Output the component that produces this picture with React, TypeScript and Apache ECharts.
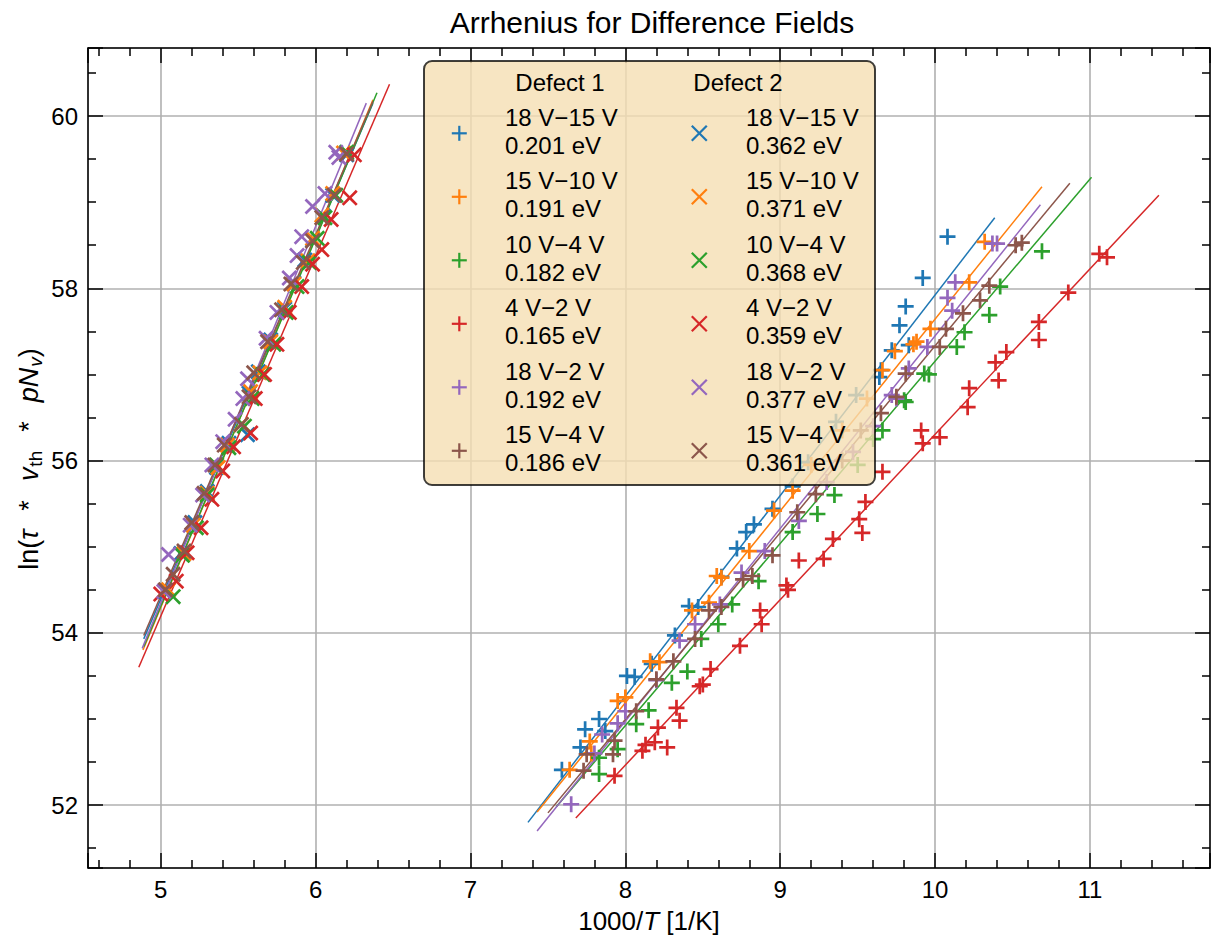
import React, { useEffect, useRef } from "react";
import * as echarts from "echarts";

const COLORS = ["#1f77b4", "#ff7f0e", "#2ca02c", "#d62728", "#9467bd", "#8c564b"];
const FIELD_LABELS = ["18 V−15 V", "15 V−10 V", "10 V−4 V", "4 V−2 V", "18 V−2 V", "15 V−4 V"];
const ENERGY_D1 = ["0.201 eV", "0.191 eV", "0.182 eV", "0.165 eV", "0.192 eV", "0.186 eV"];
const ENERGY_D2 = ["0.362 eV", "0.371 eV", "0.368 eV", "0.359 eV", "0.377 eV", "0.361 eV"];
const X_TICK_LABELS = [5, 6, 7, 8, 9, 10, 11];
const Y_TICK_LABELS = [52, 54, 56, 58, 60];

// Defect 1 (marker "+")
const d1Blue = [[7.59,52.41],[7.71,52.67],[7.74,52.88],[7.83,53.00],[7.87,52.86],[8.01,53.50],[8.06,53.49],[8.17,53.64],[8.32,53.97],[8.41,54.31],[8.47,54.30],[8.62,54.65],[8.72,54.98],[8.78,55.17],[8.83,55.26],[8.95,55.44],[9.08,55.70],[9.18,55.98],[9.36,56.45],[9.49,56.76],[9.64,56.97],[9.65,57.05],[9.72,57.28],[9.77,57.57],[9.81,57.79],[9.83,57.34],[9.92,58.12],[10.08,58.60]];
const d1Orange = [[7.64,52.41],[7.78,52.60],[7.77,52.74],[7.95,53.21],[8.00,53.25],[8.16,53.67],[8.22,53.66],[8.43,54.26],[8.54,54.35],[8.59,54.66],[8.62,54.64],[8.80,54.95],[8.96,55.42],[9.08,55.65],[9.20,55.95],[9.40,56.35],[9.56,56.72],[9.66,57.05],[9.74,57.27],[9.86,57.35],[9.88,57.38],[9.97,57.53],[10.22,58.07],[10.32,58.54]];
const d1Green = [[7.83,52.36],[7.83,52.55],[7.95,52.65],[8.07,52.94],[8.15,53.10],[8.30,53.42],[8.40,53.55],[8.49,53.93],[8.60,54.10],[8.69,54.33],[8.86,54.60],[9.08,55.17],[9.24,55.38],[9.35,55.60],[9.50,55.95],[9.60,56.25],[9.66,56.35],[9.80,56.70],[9.81,56.68],[9.93,57.01],[9.96,57.00],[10.14,57.32],[10.19,57.49],[10.35,57.69],[10.42,58.02],[10.69,58.43]];
const d1Red = [[7.93,52.34],[8.11,52.63],[8.13,52.70],[8.19,52.73],[8.21,52.90],[8.27,52.67],[8.33,53.13],[8.35,52.98],[8.48,53.38],[8.50,53.40],[8.55,53.58],[8.74,53.85],[8.87,54.26],[8.88,54.10],[9.04,54.55],[9.05,54.50],[9.12,54.84],[9.28,54.86],[9.34,55.09],[9.51,55.32],[9.53,55.16],[9.55,55.52],[9.66,55.87],[9.91,56.35],[9.92,56.20],[10.03,56.27],[10.21,56.62],[10.22,56.84],[10.39,57.14],[10.41,56.93],[10.46,57.26],[10.67,57.40],[10.67,57.61],[10.86,57.95],[11.06,58.40],[11.11,58.36]];
const d1Purple = [[7.65,52.01],[7.80,52.60],[7.85,52.82],[7.95,52.95],[8.00,53.09],[8.20,53.45],[8.35,53.91],[8.45,54.10],[8.61,54.33],[8.75,54.70],[8.90,54.95],[9.12,55.30],[9.30,55.75],[9.47,56.10],[9.60,56.40],[9.72,56.76],[9.75,56.72],[9.83,57.07],[9.95,57.32],[10.11,57.74],[10.08,57.89],[10.13,58.07],[10.37,58.52],[10.40,58.52]];
const d1Brown = [[7.73,52.40],[7.75,52.59],[7.92,52.59],[7.93,52.75],[8.07,53.09],[8.20,53.46],[8.31,53.67],[8.45,53.93],[8.54,54.26],[8.62,54.30],[8.76,54.62],[8.82,54.66],[8.95,54.90],[9.11,55.40],[9.23,55.61],[9.40,56.00],[9.52,56.35],[9.65,56.55],[9.75,56.74],[9.81,57.01],[10.03,57.32],[10.07,57.53],[10.18,57.71],[10.29,57.86],[10.35,58.03],[10.52,58.50],[10.56,58.53]];

// Defect 2 (marker "x")
const d2Blue = [[5.03,54.48],[5.13,54.92],[5.22,55.28],[5.30,55.64],[5.36,55.92],[5.44,56.20],[5.56,56.30],[5.57,56.78],[5.63,57.03],[5.71,57.40],[5.80,57.76],[5.86,58.06],[5.93,58.33],[5.98,58.56],[6.05,58.84],[6.11,59.08],[6.20,59.55]];
const d2Orange = [[5.05,54.50],[5.15,54.92],[5.21,55.25],[5.30,55.62],[5.37,55.92],[5.43,56.18],[5.52,56.42],[5.58,56.80],[5.64,57.02],[5.71,57.38],[5.80,57.78],[5.86,58.05],[5.95,58.32],[5.98,58.58],[6.04,58.85],[6.11,59.10],[6.18,59.57]];
const d2Green = [[5.08,54.42],[5.14,54.90],[5.23,55.22],[5.30,55.60],[5.36,55.95],[5.44,56.15],[5.54,56.40],[5.59,56.72],[5.66,57.00],[5.73,57.35],[5.81,57.72],[5.88,58.02],[5.96,58.30],[6.01,58.58],[6.06,58.82],[6.13,59.08],[6.20,59.58]];
const d2Red = [[5.00,54.45],[5.10,54.60],[5.17,54.93],[5.26,55.22],[5.33,55.55],[5.40,55.88],[5.47,56.16],[5.58,56.32],[5.61,56.72],[5.67,57.00],[5.75,57.35],[5.83,57.72],[5.91,58.02],[5.98,58.28],[6.04,58.45],[6.10,58.80],[6.22,59.05],[6.25,59.55]];
const d2Purple = [[5.02,54.48],[5.05,54.91],[5.19,55.25],[5.27,55.60],[5.33,55.95],[5.40,56.22],[5.48,56.48],[5.53,56.72],[5.56,56.95],[5.68,57.42],[5.75,57.72],[5.83,58.12],[5.88,58.38],[5.91,58.60],[5.98,58.95],[6.06,59.10],[6.13,59.58],[6.15,59.52]];
const d2Brown = [[5.03,54.50],[5.08,54.68],[5.15,54.95],[5.20,55.28],[5.28,55.62],[5.35,55.95],[5.41,56.18],[5.52,56.42],[5.57,56.74],[5.60,57.02],[5.69,57.38],[5.78,57.75],[5.84,58.05],[5.92,58.30],[5.98,58.55],[6.04,58.82],[6.12,59.08],[6.20,59.56]];

// Fit lines (endpoints)
const fitD1Blue = [[7.371,51.80],[10.385,58.82]];
const fitD1Orange = [[7.43,51.92],[10.69,59.18]];
const fitD1Green = [[7.554,51.98],[11.01,59.29]];
const fitD1Red = [[7.68,51.85],[11.445,59.08]];
const fitD1Purple = [[7.43,51.70],[10.68,58.97]];
const fitD1Brown = [[7.50,51.91],[10.87,59.22]];
const fitD2Blue = [[4.89,53.93],[6.37,60.15]];
const fitD2Orange = [[4.885,53.80],[6.37,60.19]];
const fitD2Green = [[4.89,53.84],[6.396,60.27]];
const fitD2Red = [[4.858,53.60],[6.477,60.37]];
const fitD2Purple = [[4.88,53.82],[6.327,60.15]];
const fitD2Brown = [[4.89,53.97],[6.37,60.17]];

const D1_POINTS = [d1Blue, d1Orange, d1Green, d1Red, d1Purple, d1Brown];
const D2_POINTS = [d2Blue, d2Orange, d2Green, d2Red, d2Purple, d2Brown];
const D1_FITS = [fitD1Blue, fitD1Orange, fitD1Green, fitD1Red, fitD1Purple, fitD1Brown];
const D2_FITS = [fitD2Blue, fitD2Orange, fitD2Green, fitD2Red, fitD2Purple, fitD2Brown];

const X_MIN = 4.53, X_MAX = 11.775, Y_MIN = 51.27, Y_MAX = 60.79;

const PLUS = "path://M8.3,0H11.7V8.3H20V11.7H11.7V20H8.3V11.7H0V8.3H8.3Z";
const CROSS = "path://M0,2.4L2.4,0L10,7.6L17.6,0L20,2.4L12.4,10L20,17.6L17.6,20L10,12.4L2.4,20L0,17.6L7.6,10Z";

const FONT = "Liberation Sans, Arial, sans-serif";

export default function App() {
  const ref = useRef<HTMLDivElement>(null);
  useEffect(() => {
    if (!ref.current) return;
    const chart = echarts.init(ref.current, undefined, { renderer: "svg" });
    const series: any[] = [];
    for (let i = 0; i < 6; i++) {
      series.push({
        type: "scatter", name: "Defect 1 " + FIELD_LABELS[i], data: D1_POINTS[i],
        symbol: PLUS, symbolSize: 16, itemStyle: { color: COLORS[i], opacity: 1 }, z: 2,
      });
      series.push({
        type: "line", name: "Defect 1 fit " + FIELD_LABELS[i], data: D1_FITS[i], showSymbol: false, symbol: "none",
        lineStyle: { color: COLORS[i], width: 1.5 }, z: 2,
      });
      series.push({
        type: "scatter", name: "Defect 2 " + FIELD_LABELS[i], data: D2_POINTS[i],
        symbol: CROSS, symbolSize: 16, itemStyle: { color: COLORS[i], opacity: 1 }, z: 2,
      });
      series.push({
        type: "line", name: "Defect 2 fit " + FIELD_LABELS[i], data: D2_FITS[i], showSymbol: false, symbol: "none",
        lineStyle: { color: COLORS[i], width: 1.5 }, z: 2,
      });
    }

    const tickFmt = (list: number[]) => (v: number) => {
      const r = Math.round(v);
      return Math.abs(v - r) < 1e-6 && list.indexOf(r) >= 0 ? String(r) : "";
    };
    const black = { color: "#000", width: 1.5 };
    const commonAxis = {
      type: "value",
      axisLine: { show: true, onZero: false, lineStyle: black },
      axisTick: { show: true, inside: true, length: 15, lineStyle: black },
      minorTick: { show: true, length: 8, lineStyle: black },
    };

    const graphics: any[] = [];
    // Y axis title (rotated rich text)
    const YF = 27;
    graphics.push({
      type: "text", z: 50, x: 29, y: 459, rotation: Math.PI / 2,
      style: {
        text: "{n|ln(}{i|τ}{op|*}{i|v}{s|th}{op|*}{i|pN}{si|v}{n|)}",
        align: "center", verticalAlign: "middle",
        rich: {
          n: { fontSize: YF, fontFamily: FONT, fill: "#000", lineHeight: 32 },
          i: { fontSize: YF, fontFamily: FONT, fontStyle: "italic", fill: "#000", lineHeight: 32 },
          op: { fontSize: YF, fontFamily: FONT, fill: "#000", lineHeight: 32, padding: [0, 19, 0, 19] },
          s: { fontSize: 19, fontFamily: FONT, fill: "#000", verticalAlign: "bottom", lineHeight: 19, padding: [20, 0, 0, 1] },
          si: { fontSize: 19, fontFamily: FONT, fontStyle: "italic", fill: "#000", verticalAlign: "bottom", lineHeight: 19, padding: [20, 0, 0, 1] },
        },
      },
    });
    // Legend drawn as graphic elements
    graphics.push({
      type: "rect", z: 100, shape: { x: 424, y: 61, width: 451, height: 424, r: 8 },
      style: { fill: "rgba(245,222,179,0.8)", stroke: "rgba(0,0,0,0.75)", lineWidth: 2 },
    });
    graphics.push({ type: "text", z: 101, x: 560, y: 82, style: { text: "Defect 1", font: `24px ${FONT}`, fill: "#000", align: "center", verticalAlign: "middle" } });
    graphics.push({ type: "text", z: 101, x: 738, y: 82, style: { text: "Defect 2", font: `24px ${FONT}`, fill: "#000", align: "center", verticalAlign: "middle" } });
    for (let i = 0; i < 6; i++) {
      const yc = 133.3 + 63.5 * i;
      const s = 7.5;
      const lw = 2.2;
      graphics.push({ type: "line", z: 101, shape: { x1: 459.3 - s, y1: yc, x2: 459.3 + s, y2: yc }, style: { stroke: COLORS[i], lineWidth: lw } });
      graphics.push({ type: "line", z: 101, shape: { x1: 459.3, y1: yc - s, x2: 459.3, y2: yc + s }, style: { stroke: COLORS[i], lineWidth: lw } });
      graphics.push({ type: "line", z: 101, shape: { x1: 699.3 - s, y1: yc - s, x2: 699.3 + s, y2: yc + s }, style: { stroke: COLORS[i], lineWidth: lw } });
      graphics.push({ type: "line", z: 101, shape: { x1: 699.3 - s, y1: yc + s, x2: 699.3 + s, y2: yc - s }, style: { stroke: COLORS[i], lineWidth: lw } });
      graphics.push({ type: "text", z: 101, x: 505, y: yc - 16, style: { text: FIELD_LABELS[i], font: `24px ${FONT}`, fill: "#000", align: "left", verticalAlign: "middle" } });
      graphics.push({ type: "text", z: 101, x: 505, y: yc + 12, style: { text: ENERGY_D1[i], font: `24px ${FONT}`, fill: "#000", align: "left", verticalAlign: "middle" } });
      graphics.push({ type: "text", z: 101, x: 746, y: yc - 16, style: { text: FIELD_LABELS[i], font: `24px ${FONT}`, fill: "#000", align: "left", verticalAlign: "middle" } });
      graphics.push({ type: "text", z: 101, x: 746, y: yc + 12, style: { text: ENERGY_D2[i], font: `24px ${FONT}`, fill: "#000", align: "left", verticalAlign: "middle" } });
    }

    const option: any = {
      animation: false,
      backgroundColor: "#fff",
      textStyle: { fontFamily: FONT },
      title: {
        text: "Arrhenius for Difference Fields", left: 647, top: 2, textAlign: "center",
        textStyle: { fontSize: 30, fontWeight: "normal", color: "#000", fontFamily: FONT },
      },
      grid: { left: 88, right: 11, top: 48, bottom: 73, containLabel: false },
      xAxis: [
        {
          ...commonAxis, position: "bottom", min: X_MIN, max: X_MAX, splitNumber: 7,
          minorTick: { ...commonAxis.minorTick, splitNumber: 5 },
          axisLabel: { show: true, margin: 9, fontSize: 24, color: "#000", fontFamily: FONT, formatter: tickFmt(X_TICK_LABELS) },
          splitLine: { show: true, lineStyle: { color: "#b0b0b0", width: 1.6 } },
          name: "{n|1000/}{i|T}{n| [1/K]}", nameLocation: "middle", nameGap: 40,
          nameTextStyle: {
            color: "#000",
            rich: {
              n: { fontSize: 26, fontFamily: FONT, color: "#000" },
              i: { fontSize: 26, fontFamily: FONT, fontStyle: "italic", color: "#000" },
            },
          },
        },
        {
          ...commonAxis, position: "top", min: X_MIN, max: X_MAX, splitNumber: 7,
          minorTick: { ...commonAxis.minorTick, splitNumber: 5 },
          axisLabel: { show: false }, splitLine: { show: false },
        },
      ],
      yAxis: [
        {
          ...commonAxis, position: "left", min: Y_MIN, max: Y_MAX, splitNumber: 5,
          minorTick: { ...commonAxis.minorTick, splitNumber: 4 },
          axisLabel: { show: true, margin: 10, fontSize: 24, color: "#000", fontFamily: FONT, formatter: tickFmt(Y_TICK_LABELS) },
          splitLine: { show: true, lineStyle: { color: "#b0b0b0", width: 1.6 } },
        },
        {
          ...commonAxis, position: "right", min: Y_MIN, max: Y_MAX, splitNumber: 5,
          minorTick: { ...commonAxis.minorTick, splitNumber: 4 },
          axisLabel: { show: false }, splitLine: { show: false },
        },
      ],
      graphic: graphics,
      series,
    };
    chart.setOption(option);
    return () => chart.dispose();
  }, []);
  return <div ref={ref} style={{ position: "fixed", left: 0, top: 0, width: 1221, height: 941 }} />;
}
